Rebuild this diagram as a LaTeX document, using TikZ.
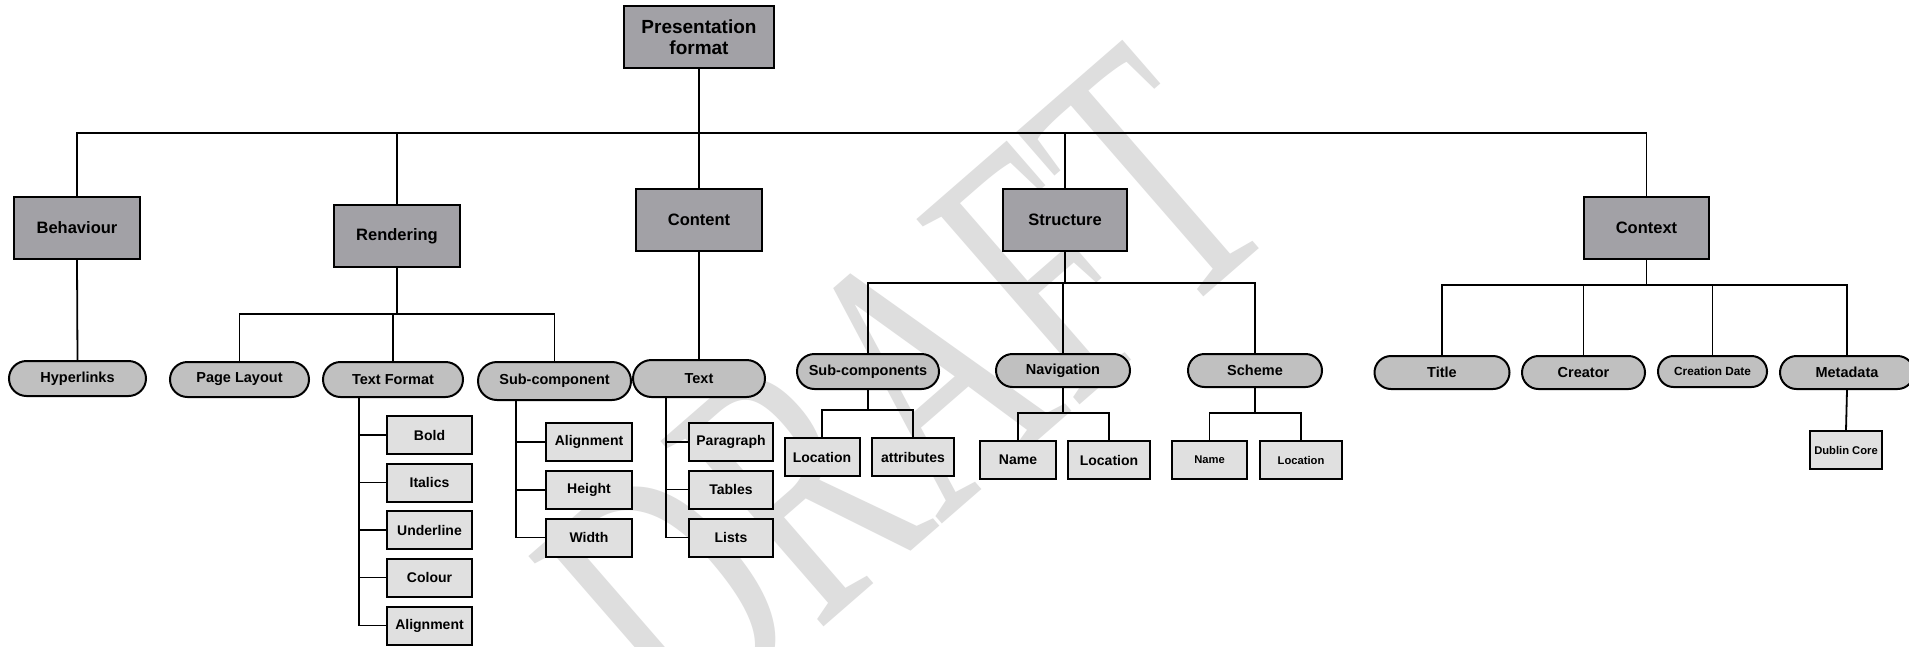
\documentclass[tikz,border=0pt]{standalone}
\usepackage{fontspec}
\setmainfont{Liberation Sans}
\newfontfamily\wmfont{Liberation Serif}
\usetikzlibrary{shapes.misc}
\definecolor{mainfill}{RGB}{162,161,166}
\definecolor{midfill}{RGB}{192,192,192}
\definecolor{leaffill}{RGB}{224,224,224}
\definecolor{wmgray}{RGB}{222,222,222}
\begin{document}
\begin{tikzpicture}[x=1pt,y=-1pt,
  mainbox/.style={draw, line width=2pt, fill=mainfill, minimum width=126pt, minimum height=62pt, inner sep=0pt, font=\fontsize{16.5}{19}\selectfont\bfseries},
  pill/.style={draw, line width=2pt, fill=midfill, rounded rectangle, minimum height=35pt, inner sep=0pt, font=\fontsize{14.5}{17}\selectfont\bfseries},
  leaf/.style={draw, line width=2pt, fill=leaffill, minimum height=38pt, inner sep=0pt, font=\fontsize{14}{16}\selectfont\bfseries},
  small/.style={font=\fontsize{11.2}{13}\selectfont\bfseries},
  link/.style={line width=1.8pt}
]
\useasboundingbox (0,0) rectangle (1909,646);
\clip (0,0) rectangle (1909,646);
\fill[white] (0,0) rectangle (1909,646);
% watermark
\begin{scope}[shift={(905,392)}]
\node[text=wmgray, rotate=41, xscale=0.84, yscale=1.3, transform shape, inner sep=0pt, font=\wmfont\fontsize{290}{290}\selectfont] (wm) at (0,0) {DRAFT};
\end{scope}

% main level
\node[mainbox, minimum width=150pt, align=center, font=\fontsize{19}{21}\selectfont\bfseries] (pf) at (699,37) {Presentation\\format};
\node[mainbox] (beh) at (77,228) {Behaviour};
\node[mainbox] (ren) at (397,236) {Rendering};
\node[mainbox] (con) at (699,220) {Content};
\node[mainbox, minimum width=124pt] (str) at (1065,220) {Structure};
\node[mainbox, minimum width=125pt] (ctx) at (1646.5,228) {Context};

% second level
\node[pill, minimum width=137pt] (hyp) at (77.5,378.5) {Hyperlinks};
\node[pill, minimum width=139pt] (pl) at (239.5,379.5) {Page Layout};
\node[pill, minimum width=140pt] (tf) at (393,379.5) {Text Format};
\node[pill, minimum width=153pt, minimum height=38pt] (sc) at (554.5,381) {Sub-component};
\node[pill, minimum width=132pt, minimum height=37pt] (txt) at (699,378.5) {Text};
\node[pill, minimum width=142pt] (scs) at (868,371.5) {Sub-components};
\node[pill, minimum width=134pt, minimum height=33pt] (nav) at (1063,370.5) {Navigation};
\node[pill, minimum width=134pt, minimum height=33pt] (sch) at (1255,370.5) {Scheme};
\node[pill, minimum width=135pt, minimum height=33pt] (tit) at (1442,372.5) {Title};
\node[pill, minimum width=123pt, minimum height=33pt] (cre) at (1583.5,372.5) {Creator};
\node[pill, minimum width=109pt, minimum height=31pt, font=\fontsize{11.8}{14}\selectfont\bfseries] (cd) at (1712.5,371.5) {Creation Date};
\node[pill, minimum width=134pt, minimum height=33pt] (meta) at (1847,372.5) {Metadata};

% leaves: Text Format
\node[leaf, minimum width=85pt] (bold) at (429.5,435) {Bold};
\node[leaf, minimum width=85pt] (ital) at (429.5,482.5) {Italics};
\node[leaf, minimum width=85pt] (und) at (429.5,530) {Underline};
\node[leaf, minimum width=85pt] (col) at (429.5,577.5) {Colour};
\node[leaf, minimum width=85pt] (ali1) at (429.5,625.5) {Alignment};
% Sub-component
\node[leaf, minimum width=86pt] (ali2) at (589,442) {Alignment};
\node[leaf, minimum width=86pt] (hei) at (589,490) {Height};
\node[leaf, minimum width=86pt] (wid) at (589,537.5) {Width};
% Text
\node[leaf, minimum width=84pt] (par) at (731,442) {Paragraph};
\node[leaf, minimum width=84pt] (tab) at (731,489.5) {Tables};
\node[leaf, minimum width=84pt] (lis) at (731,537.5) {Lists};
% Sub-components
\node[leaf, minimum width=75pt] (loc1) at (822,457) {Location};
\node[leaf, minimum width=82pt] (att) at (913,457) {attributes};
% Navigation
\node[leaf, minimum width=75.5pt] (nam1) at (1018,460) {Name};
\node[leaf, minimum width=82.5pt] (loc2) at (1109,460) {Location};
% Scheme
\node[leaf, small, minimum width=75pt] (nam2) at (1209.5,460) {Name};
\node[leaf, small, minimum width=82.5pt] (loc3) at (1301,460) {Location};
% Metadata
\node[leaf, small, minimum width=71.5pt] (dc) at (1846,450) {Dublin Core};

% connectors, top level
\coordinate (bus) at (699,133);
\draw[link] (pf.south) -- (bus);
\draw[link] (beh.north) |- (bus) -| (ctx.north);
\draw[link] (ren.north) -- (ren.north |- bus);
\draw[link] (con.north) -- (con.north |- bus);
\draw[link] (str.north) -- (str.north |- bus);

\draw[link] (beh.south) -- (hyp.north);

\coordinate (rbus) at (397,314);
\draw[link] (ren.south) -- (rbus);
\draw[link] (pl.north) |- (rbus) -| (sc.north);
\draw[link] (tf.north) -- (tf.north |- rbus);

\draw[link] (con.south) -- (txt.north);

\coordinate (tfv) at (359,397);
\draw[link] (tfv) |- (ali1.west);
\foreach \n in {bold,ital,und,col} \draw[link] (tfv |- \n.west) -- (\n.west);
\coordinate (scv) at (516,400);
\draw[link] (scv) |- (wid.west);
\foreach \n in {ali2,hei} \draw[link] (scv |- \n.west) -- (\n.west);
\coordinate (txv) at (666,397);
\draw[link] (txv) |- (lis.west);
\foreach \n in {par,tab} \draw[link] (txv |- \n.west) -- (\n.west);

\coordinate (sbus) at (1065,283);
\draw[link] (str.south) -- (sbus);
\draw[link] (scs.north) |- (sbus) -| (sch.north);
\draw[link] (nav.north) -- (nav.north |- sbus);

\coordinate (scsb) at (868,410);
\draw[link] (scs.south) -- (scsb);
\draw[link] (loc1.north) |- (scsb) -| (att.north);
\coordinate (navb) at (1063,413);
\draw[link] (nav.south) -- (navb);
\draw[link] (nam1.north) |- (navb) -| (loc2.north);
\coordinate (schb) at (1255,413);
\draw[link] (sch.south) -- (schb);
\draw[link] (nam2.north) |- (schb) -| (loc3.north);

\coordinate (cbus) at (1646.5,285);
\draw[link] (ctx.south) -- (cbus);
\draw[link] (tit.north) |- (cbus) -| (meta.north);
\draw[link] (cre.north) -- (cre.north |- cbus);
\draw[link] (cd.north) -- (cd.north |- cbus);
\draw[link] (meta.south) -- (dc.north);
\end{tikzpicture}
\end{document}
